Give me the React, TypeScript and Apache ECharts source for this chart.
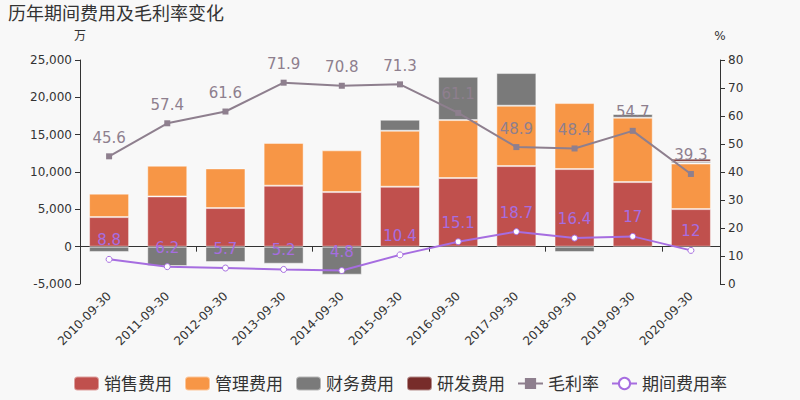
import React, { useEffect, useRef } from "react";
import * as echarts from "echarts";

const categories = ["2010-09-30", "2011-09-30", "2012-09-30", "2013-09-30", "2014-09-30", "2015-09-30", "2016-09-30", "2017-09-30", "2018-09-30", "2019-09-30", "2020-09-30"];
const salesExp = [3960, 6730, 5170, 8170, 7310, 8030, 9190, 10790, 10390, 8650, 5030];
const adminExp = [3140, 4110, 5310, 5730, 5590, 7500, 7760, 8090, 8840, 8620, 6100];
const finExp = [-710, -2590, -2060, -2280, -3750, 1470, 5800, 4370, -720, 500, 250];
const rdExp = [null, null, null, null, null, null, null, null, null, 80, 400];
const grossMargin = [45.6, 57.4, 61.6, 71.9, 70.8, 71.3, 61.1, 48.9, 48.4, 54.7, 39.3];
const expenseRate = [8.8, 6.2, 5.7, 5.2, 4.8, 10.4, 15.1, 18.7, 16.4, 17, 12];

export default function App() {
  const ref = useRef<HTMLDivElement>(null);
  useEffect(() => {
    if (!ref.current) return;
    const chart = echarts.init(ref.current, null, { renderer: "svg" });
    const barBorder = { borderColor: "rgba(255,255,255,0.45)", borderWidth: 1 };
    const txt = "#333";
    chart.setOption({
      animation: false,
      backgroundColor: "#f8f8f8",
      textStyle: { fontFamily: "'DejaVu Sans', 'Noto Sans CJK SC', sans-serif" },
      title: {
        text: "历年期间费用及毛利率变化",
        left: 3,
        top: -1,
        textStyle: { fontSize: 18, fontWeight: "normal", color: txt },
      },
      legend: {
        bottom: 3,
        left: "center",
        itemWidth: 25,
        itemHeight: 14,
        itemGap: 12,
        textStyle: { fontSize: 17, color: txt },
        data: [
          { name: "销售费用" },
          { name: "管理费用" },
          { name: "财务费用" },
          { name: "研发费用" },
          { name: "毛利率" },
          { name: "期间费用率" },
        ],
      },
      grid: { left: 80, right: 80, top: 60, bottom: 116 },
      xAxis: [
        {
          type: "category",
          data: categories,
          position: "bottom",
          axisLine: { show: false, onZero: false },
          axisTick: { show: false },
          axisLabel: { rotate: 45, fontSize: 12, color: txt, margin: 10, interval: 0 },
        },
        {
          type: "category",
          data: categories,
          position: "bottom",
          axisLine: { show: true, onZero: true, lineStyle: { color: txt } },
          axisTick: { show: true, lineStyle: { color: txt } },
          axisLabel: { show: false },
        },
      ],
      yAxis: [
        {
          type: "value",
          name: "万",
          nameGap: 18,
          nameTextStyle: { fontSize: 12, color: txt, align: "center" },
          min: -5000,
          max: 25000,
          interval: 5000,
          axisLine: { show: true, lineStyle: { color: txt } },
          axisTick: { show: true },
          axisLabel: { fontSize: 12, color: txt },
          splitLine: { show: false },
        },
        {
          type: "value",
          name: "%",
          nameGap: 18,
          nameTextStyle: { fontSize: 12, color: txt, align: "center" },
          min: 0,
          max: 80,
          interval: 10,
          axisLine: { show: true, lineStyle: { color: txt } },
          axisTick: { show: true },
          axisLabel: { fontSize: 12, color: txt },
          splitLine: { show: false },
        },
      ],
      series: [
        { name: "销售费用", type: "bar", stack: "exp", barWidth: 40, data: salesExp, itemStyle: { color: "#c0504d", ...barBorder } },
        { name: "管理费用", type: "bar", stack: "exp", barWidth: 40, data: adminExp, itemStyle: { color: "#f79646", ...barBorder } },
        { name: "财务费用", type: "bar", stack: "exp", barWidth: 40, data: finExp, itemStyle: { color: "#7a7a7a", ...barBorder } },
        { name: "研发费用", type: "bar", stack: "exp", barWidth: 40, data: rdExp, itemStyle: { color: "#772c2a", ...barBorder } },
        {
          name: "毛利率",
          type: "line",
          yAxisIndex: 1,
          data: grossMargin,
          symbol: "rect",
          symbolSize: 6,
          lineStyle: { color: "#8e7f8e", width: 2 },
          itemStyle: { color: "#8e7f8e" },
          label: { show: true, position: "top", fontSize: 15, color: "#8e7f8e", distance: 8 },
        },
        {
          name: "期间费用率",
          type: "line",
          yAxisIndex: 1,
          data: expenseRate,
          symbol: "circle",
          symbolSize: 6,
          lineStyle: { color: "#a66de0", width: 2 },
          itemStyle: { color: "#ffffff", borderColor: "#a66de0", borderWidth: 1 },
          label: { show: true, position: "top", fontSize: 15, color: "#a66de0", distance: 8 },
        },
      ],
    });
    return () => chart.dispose();
  }, []);
  return <div ref={ref} style={{ position: "fixed", left: 0, top: 0, width: 800, height: 400 }} />;
}
